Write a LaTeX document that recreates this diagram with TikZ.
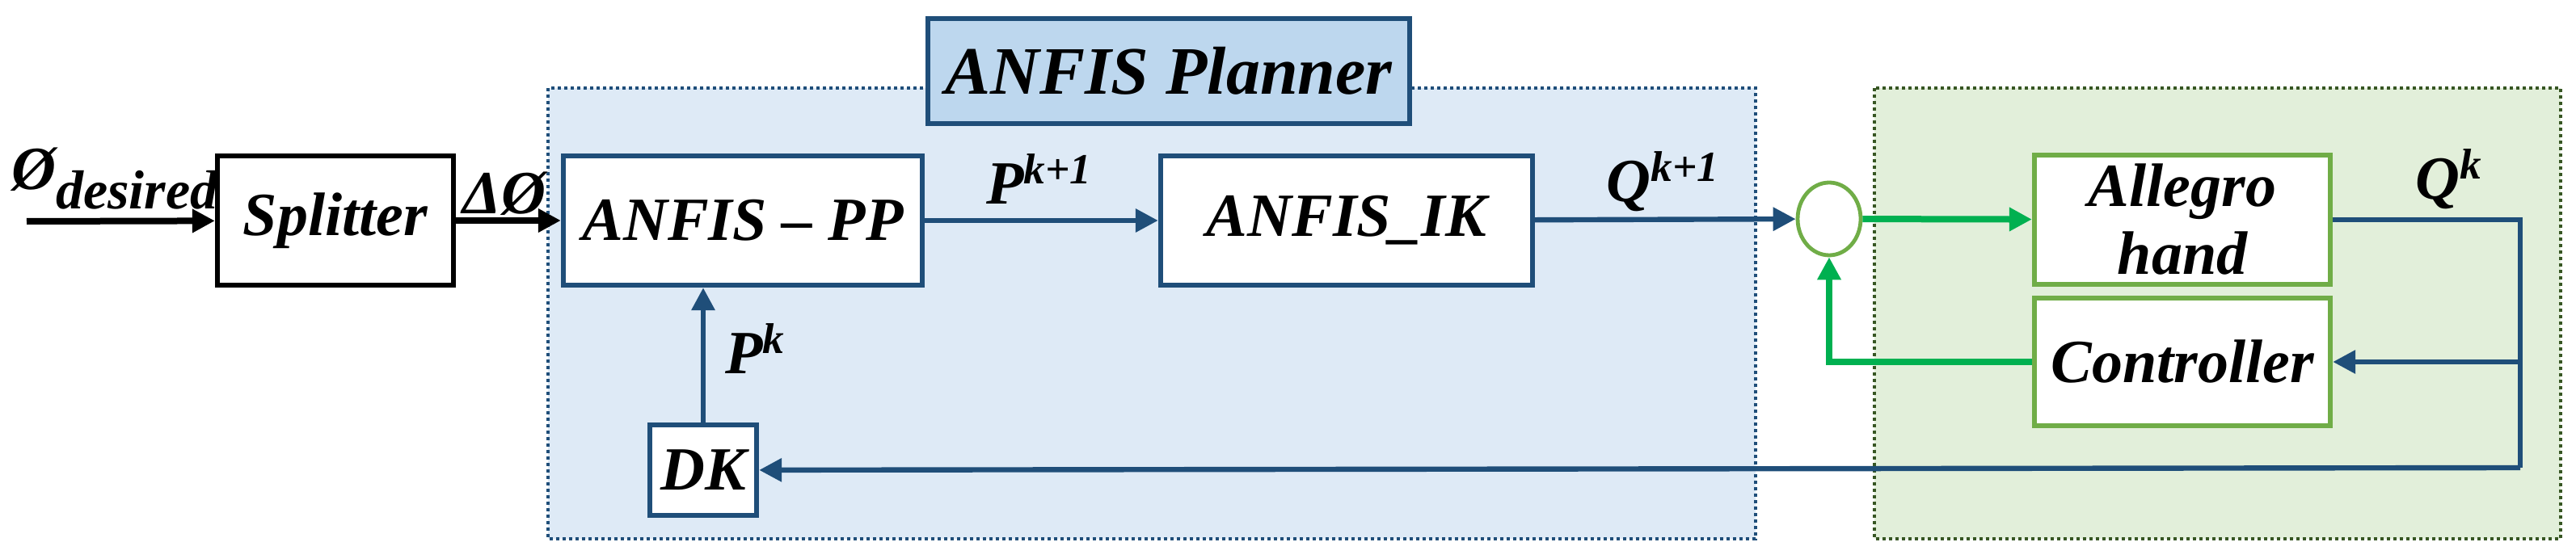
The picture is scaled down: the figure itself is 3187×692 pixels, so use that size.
\documentclass[tikz,border=0pt]{standalone}
\usepackage{fontspec}
\setmainfont{Liberation Serif}
\usetikzlibrary{arrows.meta,shapes.geometric}
\definecolor{dblue}{HTML}{1F4E79}
\definecolor{lblue}{HTML}{DEEAF6}
\definecolor{tblue}{HTML}{BDD7EE}
\definecolor{lgreen}{HTML}{E2EFDA}
\definecolor{dgreen}{HTML}{375623}
\definecolor{bgreen}{HTML}{70AD47}
\definecolor{agreen}{HTML}{00B050}
\newcommand{\lbl}[2]{\textbf{\textit{#1}}\textsuperscript{\textbf{\textit{#2}}}}
\begin{document}
\begin{tikzpicture}[x=0.25pt,y=-0.25pt,
  every node/.style={font=\fontsize{19}{22}\selectfont\bfseries\itshape},
  box/.style={draw=dblue,line width=1.6pt,fill=white,inner sep=0pt,align=center},
  gbox/.style={draw=bgreen,line width=1.6pt,fill=white,inner sep=0pt,align=center},
  barrow/.style={draw=dblue,line width=1.6pt,-{Triangle[length=7pt,width=7pt]}},
  garrow/.style={draw=agreen,line width=2pt,-{Triangle[length=7pt,width=7pt]}},
  lab/.style={inner sep=1pt}]
\useasboundingbox (0,0) rectangle (3187,692);
% regions
\draw[dblue,fill=lblue,line width=1pt,densely dotted] (678,109) rectangle (2172,667);
\draw[dgreen,fill=lgreen,line width=1pt,densely dotted] (2319,109) rectangle (3168,667);
\node[draw=dblue,fill=tblue,line width=1.6pt,minimum width=149pt,minimum height=32.5pt,inner sep=0pt,font=\fontsize{21}{24}\selectfont\bfseries\itshape] (title) at (1446,88) {ANFIS Planner};
% blocks
\node[draw=black,line width=1.6pt,fill=white,minimum width=73pt,minimum height=40pt,inner sep=0pt] (split) at (415,273) {Splitter};
\node[box,minimum width=111pt,minimum height=40pt] (pp) at (919,273) {ANFIS -- PP};
\node[box,minimum width=115pt,minimum height=40pt] (ik) at (1666,273) {ANFIS\_IK};
\node[box,minimum width=33pt,minimum height=28pt] (dk) at (870,582) {DK};
\node[gbox,minimum width=91.5pt,minimum height=40pt,font=\fontsize{19}{21}\selectfont\bfseries\itshape] (hand) at (2700,272) {Allegro\\hand};
\node[gbox,minimum width=91.5pt,minimum height=39.5pt] (ctrl) at (2700,448) {Controller};
\node[draw=bgreen,line width=1.2pt,fill=white,ellipse,minimum width=19.5pt,minimum height=22.5pt,inner sep=0pt] (sum) at (2263,271) {};
\coordinate (in) at (33,274);
\coordinate (qr) at (3118,272);
\coordinate (qb) at (3118,579);
\coordinate (cq) at (3118,448);
\coordinate (gc) at (2263,448);
% connectors
\draw[line width=2pt,-{Triangle[length=7pt,width=7pt]}] (in) -- (split);
\draw[line width=2pt,-{Triangle[length=7pt,width=7pt]}] (split) -- (pp);
\draw[barrow] (pp) -- (ik);
\draw[barrow] (ik) -- (sum);
\draw[garrow] (sum) -- (hand);
\draw[barrow] (dk) -- (dk |- pp.south);
\draw[dblue,line width=1.6pt] (hand.east) -- (qr) -- (qb);
\draw[barrow] (qb) -- (dk);
\draw[barrow] (cq) -- (ctrl);
\draw[garrow] (ctrl.west) -- (gc) -- (sum.south);
% labels
\node[lab] at (143,221) {Ø\textsubscript{\fontsize{17}{20}\selectfont\textbf{\textit{desired}}}};
\node[lab] at (624,240) {ΔØ};
\node[lab] at (1286,222) {\lbl{P}{k+1}};
\node[lab] at (935,432) {\lbl{P}{k}};
\node[lab] at (2058,225) {\lbl{Q}{k+1}};
\node[lab] at (3030,222) {\lbl{Q}{k}};
\end{tikzpicture}
\end{document}
